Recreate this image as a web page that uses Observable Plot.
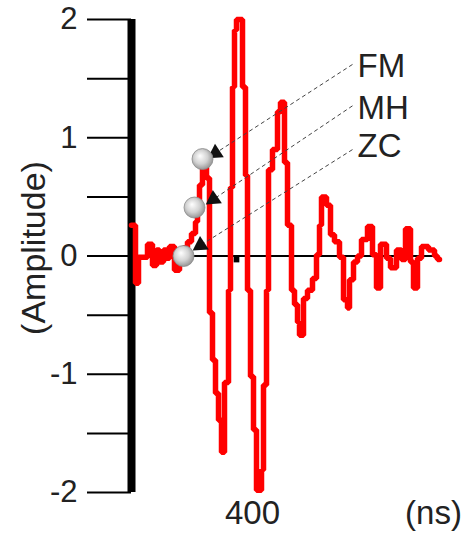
<!DOCTYPE html>
<html>
<head>
<meta charset="utf-8">
<script src="https://cdn.jsdelivr.net/npm/d3@7"></script>
<script src="https://cdn.jsdelivr.net/npm/@observablehq/plot@0.6"></script>
<style>
  html, body { margin: 0; padding: 0; background: #fff; }
</style>
</head>
<body>
<div id="chart"></div>
<script>
// Signal (time in ns, amplitude) — step trace
const time = [339.5, 341.5, 343, 347.5, 350, 352, 353.5, 355.5, 357, 358.5, 361, 363.5, 365.5, 367.5, 369.5, 371.5, 372.5, 373.5, 375, 377,
  378.5, 380, 381.5, 383, 384.5, 386, 388, 389, 390, 391, 392, 395, 396.5, 397.5, 399, 400.5, 402, 404.5, 405.5, 407,
  408, 410, 412.5, 414, 416, 417.5, 419.5, 421, 422.5, 423.5, 425.5, 427.5, 430, 432, 433.5, 434.5, 437, 439, 441, 443.5,
  445.5, 447.5, 448.5, 450.5, 452.5, 454.5, 457.5, 460, 462, 464, 467, 469, 472, 474.5, 476.5, 479, 480.5, 482.5, 484.5, 488,
  491, 492.5, 493.5];
const amplitude = [0.26, -0.23, -0.01, 0.10, -0.08, 0.05, -0.05, 0.05, -0.02, 0.08, -0.12, -0.05, 0.07, 0.12, 0.19, 0.29, 0.43, 0.60, 0.75, 0.66,
  -0.48, -0.88, -1.16, -1.39, -1.66, -1.07, -0.29, 0.58, 1.43, 1.91, 2.0, 1.43, 0.68, -0.29, -1.02, -1.47, -1.98, -1.81, -1.09, -0.29,
  0.73, 0.90, 1.22, 1.30, 0.79, 0.26, -0.29, -0.41, -0.56, -0.67, -0.36, -0.29, -0.19, 0.01, 0.26, 0.50, 0.43, 0.18, 0.12, -0.01,
  -0.37, -0.44, -0.20, -0.05, 0.0, 0.14, 0.25, 0.01, -0.27, 0.10, -0.02, -0.10, 0.05, -0.03, 0.23, -0.05, -0.27, -0.02, 0.08, 0.05,
  0.0, -0.03, -0.03];

// Picked points (FM, MH, ZC)
const pickNames = ["FM", "MH", "ZC"];
const pickTime = [375, 371, 365.5];
const pickAmp = [0.82, 0.41, 0.0];
// Annotation labels and arrow geometry
const labelTime = [452.5, 452.5, 452.5];
const labelAmp = [1.60, 1.25, 0.93];
const arrowStartTime = [450, 450, 450];
const arrowStartAmp = [1.62, 1.27, 0.90];
const arrowHeadTime = [381.5, 380.5, 374];
const arrowHeadAmp = [0.87, 0.48, 0.09];
const arrowAngle = [237, 236, 237];

const yTicks = [-2, -1.5, -1, -0.5, 0, 0.5, 1, 1.5, 2];
const xTicks = [400];
const xDomain = [339.5, 499.5];
const yDomain = [-2, 2];
const zeroLineEnd = 493;
const markerTime = [392];
const markerAmp = [-0.03];

const signal = time.map((t, i) => ({t, a: amplitude[i]}));
const picks = pickNames.map((n, i) => ({
  name: n, t: pickTime[i], a: pickAmp[i],
  lt: labelTime[i], la: labelAmp[i],
  x1: arrowStartTime[i], y1: arrowStartAmp[i],
  x2: arrowHeadTime[i], y2: arrowHeadAmp[i], rot: arrowAngle[i]
}));

const font = "'Liberation Sans', Arial, Helvetica, sans-serif";

const chart = Plot.plot({
  width: 472,
  height: 536,
  marginLeft: 131,
  marginRight: 21,
  marginTop: 19,
  marginBottom: 44,
  style: {fontFamily: font, fontSize: "31px", color: "#222", background: "#fff"},
  x: {domain: xDomain, label: null},
  y: {domain: yDomain, label: null},
  marks: [
    Plot.axisY({ticks: yTicks, tickSize: 44, tickPadding: 10, strokeWidth: 2, stroke: "#000",
      fontSize: 31, fill: "#222", label: null,
      tickFormat: d => Number.isInteger(d) ? String(d) : ""}),
    Plot.axisX({ticks: xTicks, tickSize: 0, tickPadding: 8, fontSize: 33, fill: "#222", label: null,
      tickFormat: d => String(d)}),
    Plot.text(["(ns)"], {x: [490.5], frameAnchor: "bottom", dy: 8, lineAnchor: "top",
      fontSize: 33, fill: "#222"}),
    Plot.text(["(Amplitude)"], {frameAnchor: "left", textAnchor: "middle", dx: -97, dy: -8, rotate: -90,
      fontSize: 34, fill: "#222"}),
    Plot.ruleY([0], {x1: xDomain[0], x2: zeroLineEnd, stroke: "#000", strokeWidth: 2}),
    Plot.ruleX([xDomain[0]], {y1: yDomain[0], y2: yDomain[1], stroke: "#000", strokeWidth: 8}),
    Plot.dot(markerTime.map((t, i) => ({t, a: markerAmp[i]})), {x: "t", y: "a", symbol: "square", r: 3.2, fill: "#000"}),
    Plot.line(signal, {x: "t", y: "a", curve: "step-after", stroke: "#ff0000", strokeWidth: 5.5, strokeLinejoin: "miter"}),
    Plot.link(picks, {x1: "x1", y1: "y1", x2: "x2", y2: "y2", stroke: "#444", strokeWidth: 1, strokeDasharray: "4,3"}),
    Plot.dot(picks, {x: "x2", y: "y2", symbol: "triangle", r: 6, fill: "#111", rotate: "rot"}),
    Plot.dot(picks, {x: "t", y: "a", r: 10.5, fill: "url(#sphere)", stroke: "#8a8a8a", strokeWidth: 0.8}),
    Plot.text(picks, {x: "lt", y: "la", text: "name", textAnchor: "start", fontSize: 33, fill: "#222"})
  ]
});

const svg = d3.select(chart);
const defs = svg.insert("defs", ":first-child");
const g = defs.append("radialGradient").attr("id", "sphere")
  .attr("cx", "45%").attr("cy", "45%").attr("r", "60%").attr("fx", "38%").attr("fy", "35%");
g.append("stop").attr("offset", "0%").attr("stop-color", "#ffffff");
g.append("stop").attr("offset", "55%").attr("stop-color", "#d2d2d2");
g.append("stop").attr("offset", "100%").attr("stop-color", "#8c8c8c");

document.getElementById("chart").appendChild(chart);
</script>
</body>
</html>
